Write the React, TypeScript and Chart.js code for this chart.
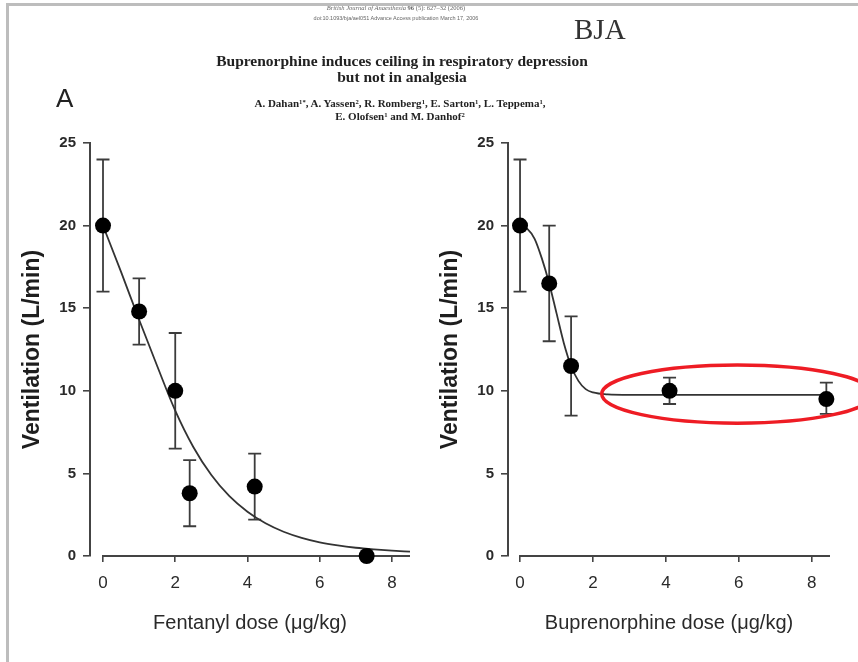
import React, { useEffect, useRef } from "react";
import { Chart, registerables } from "chart.js";

Chart.register(...registerables);

// ---------- data ----------
const X_TICKS = [0, 2, 4, 6, 8];
const Y_TICKS = [0, 5, 10, 15, 20, 25];

// Fentanyl panel (A, left)
const fentDose = [0, 1, 2, 2.4, 4.2, 7.3];
const fentVent = [20, 14.8, 10, 3.8, 4.2, 0];
const fentLow = [16, 12.8, 6.5, 1.8, 2.2, 0];
const fentHigh = [24, 16.8, 13.5, 5.8, 6.2, 0];
const fentFitDose = [0, 0.5, 1, 1.5, 2, 2.5, 3, 3.5, 4, 4.5, 5, 5.5, 6, 6.5, 7, 7.5, 8, 8.5];
const fentFitVent = [20, 17.2, 14.3, 11.5, 8.8, 6.6, 4.9, 3.62, 2.68, 1.98, 1.47, 1.1, 0.83, 0.64, 0.5, 0.4, 0.32, 0.26];

// Buprenorphine panel (right)
const bupDose = [0, 0.8, 1.4, 4.1, 8.4];
const bupVent = [20, 16.5, 11.5, 10, 9.5];
const bupLow = [16, 13, 8.5, 9.2, 8.6];
const bupHigh = [24, 20, 14.5, 10.8, 10.5];
const bupFitDose = [0, 0.2, 0.4, 0.6, 0.8, 1.0, 1.2, 1.4, 1.6, 1.8, 2.0, 2.4, 3, 4, 5, 6, 7, 8, 8.5];
const bupFitVent = [20, 19.8, 19.2, 18.0, 16.5, 14.7, 12.9, 11.5, 10.6, 10.1, 9.9, 9.78, 9.75, 9.75, 9.75, 9.75, 9.75, 9.75, 9.75];

// highlight ellipse around the plateau (data units)
const HIGHLIGHT = { cx: 5.96, cy: 9.8, rx: 3.72, ry: 1.76 };

const SANS = "'Liberation Sans', Arial, Helvetica, sans-serif";
const SERIF = "'Liberation Serif', 'Times New Roman', serif";
const AXIS_COLOR = "#444";

type Panel = {
  xTitle: string;
  dose: number[];
  vent: number[];
  low: number[];
  high: number[];
  fitDose: number[];
  fitVent: number[];
  xMin: number;
  padRight: number;
  ellipse: boolean;
};

function makePlugins(p: Panel) {
  const errorBars = {
    id: "errorBars",
    beforeDatasetsDraw(chart: any) {
      const { ctx } = chart;
      const x = chart.scales.x;
      const y = chart.scales.y;
      ctx.save();
      // x-axis line from 0 to the maximum
      const y0 = y.getPixelForValue(0);
      ctx.strokeStyle = AXIS_COLOR;
      ctx.lineWidth = 2;
      ctx.beginPath();
      ctx.moveTo(x.getPixelForValue(0) - 1, y0);
      ctx.lineTo(x.getPixelForValue(x.max), y0);
      ctx.stroke();
      // error bars
      ctx.lineWidth = 1.8;
      ctx.strokeStyle = "#3c3c3c";
      const cap = 6.5;
      for (let i = 0; i < p.dose.length; i++) {
        if (p.low[i] === p.high[i]) continue;
        const px = x.getPixelForValue(p.dose[i]);
        const pl = y.getPixelForValue(p.low[i]);
        const ph = y.getPixelForValue(p.high[i]);
        ctx.beginPath();
        ctx.moveTo(px, pl);
        ctx.lineTo(px, ph);
        ctx.moveTo(px - cap, pl);
        ctx.lineTo(px + cap, pl);
        ctx.moveTo(px - cap, ph);
        ctx.lineTo(px + cap, ph);
        ctx.stroke();
      }
      ctx.restore();
    },
    afterDraw(chart: any) {
      if (!p.ellipse) return;
      const { ctx } = chart;
      const x = chart.scales.x;
      const y = chart.scales.y;
      const cx = x.getPixelForValue(HIGHLIGHT.cx);
      const cy = y.getPixelForValue(HIGHLIGHT.cy);
      const rx = Math.abs(x.getPixelForValue(HIGHLIGHT.cx + HIGHLIGHT.rx) - cx);
      const ry = Math.abs(y.getPixelForValue(HIGHLIGHT.cy + HIGHLIGHT.ry) - cy);
      ctx.save();
      ctx.strokeStyle = "#ee1c24";
      ctx.lineWidth = 3.5;
      ctx.beginPath();
      ctx.ellipse(cx, cy, rx, ry, 0, 0, Math.PI * 2);
      ctx.stroke();
      ctx.restore();
    },
  };
  return [errorBars];
}

function makeConfig(p: Panel): any {
  return {
    type: "scatter",
    data: {
      datasets: [
        {
          type: "line",
          data: p.fitDose.map((d, i) => ({ x: d, y: p.fitVent[i] })),
          borderColor: "#333",
          borderWidth: 1.8,
          pointRadius: 0,
          cubicInterpolationMode: "monotone",
          fill: false,
          clip: false,
          order: 2,
        },
        {
          type: "scatter",
          data: p.dose.map((d, i) => ({ x: d, y: p.vent[i] })),
          pointRadius: 8,
          backgroundColor: "#000",
          borderColor: "#000",
          borderWidth: 0,
          clip: false,
          order: 1,
        },
      ],
    },
    options: {
      animation: false,
      responsive: false,
      maintainAspectRatio: false,
      events: [],
      layout: { padding: { left: 0, right: p.padRight, top: 143, bottom: 0 } },
      plugins: {
        legend: { display: false },
        tooltip: { enabled: false },
      },
      scales: {
        x: {
          type: "linear",
          min: p.xMin,
          max: 8.5,
          afterBuildTicks: (s: any) => {
            s.ticks = X_TICKS.map((v) => ({ value: v }));
          },
          afterFit: (s: any) => {
            s.height = 106;
          },
          border: { display: false },
          grid: {
            display: true,
            drawOnChartArea: false,
            drawTicks: true,
            tickLength: 6,
            color: AXIS_COLOR,
            lineWidth: 1.6,
          },
          ticks: {
            color: "#2a2a2a",
            font: { family: SANS, size: 17 },
            padding: 11,
            maxRotation: 0,
            autoSkip: false,
          },
          title: {
            display: true,
            text: p.xTitle,
            color: "#2a2a2a",
            font: { family: SANS, size: 20 },
            padding: { top: 0, bottom: 27 },
          },
        },
        y: {
          type: "linear",
          min: 0,
          max: 25,
          afterBuildTicks: (s: any) => {
            s.ticks = Y_TICKS.map((v) => ({ value: v }));
          },
          afterFit: (s: any) => {
            s.width = 90;
          },
          border: { display: true, color: AXIS_COLOR, width: 2 },
          grid: {
            display: true,
            drawOnChartArea: false,
            drawTicks: true,
            tickLength: 7,
            color: AXIS_COLOR,
            lineWidth: 1.6,
          },
          ticks: {
            color: "#2a2a2a",
            font: { family: SANS, size: 15, weight: "bold" },
            padding: 7,
          },
          title: {
            display: true,
            text: "Ventilation (L/min)",
            color: "#1e1e1e",
            font: { family: SANS, size: 23, weight: "bold" },
            padding: { top: 19, bottom: 0 },
          },
        },
      },
    },
    plugins: makePlugins(p),
  };
}

const LEFT_PANEL: Panel = {
  xTitle: "Fentanyl dose (μg/kg)",
  dose: fentDose,
  vent: fentVent,
  low: fentLow,
  high: fentHigh,
  fitDose: fentFitDose,
  fitVent: fentFitVent,
  xMin: -0.36,
  padRight: 5,
  ellipse: false,
};

const RIGHT_PANEL: Panel = {
  xTitle: "Buprenorphine dose (μg/kg)",
  dose: bupDose,
  vent: bupVent,
  low: bupLow,
  high: bupHigh,
  fitDose: bupFitDose,
  fitVent: bupFitVent,
  xMin: -0.33,
  padRight: 28,
  ellipse: true,
};

function PanelChart({ panel, left, width }: { panel: Panel; left: number; width: number }) {
  const ref = useRef<HTMLCanvasElement | null>(null);
  useEffect(() => {
    if (!ref.current) return;
    const chart = new Chart(ref.current, makeConfig(panel));
    return () => chart.destroy();
  }, [panel]);
  return (
    <canvas
      ref={ref}
      width={width}
      height={662}
      style={{ position: "absolute", left, top: 0, width, height: 662, display: "block" }}
    />
  );
}

function Line({
  text,
  cx,
  top,
  size,
  style,
}: {
  text: React.ReactNode;
  cx: number;
  top: number;
  size: number;
  style?: React.CSSProperties;
}) {
  return (
    <div
      style={{
        position: "absolute",
        left: cx - 320,
        width: 640,
        top,
        textAlign: "center",
        fontFamily: SERIF,
        fontSize: size,
        lineHeight: `${size}px`,
        whiteSpace: "nowrap",
        color: "#222",
        ...style,
      }}
    >
      {text}
    </div>
  );
}

const supStyle: React.CSSProperties = { fontSize: "0.6em", verticalAlign: "0.5em", lineHeight: 0 };

export default function App() {
  return (
    <div
      style={{
        position: "absolute",
        left: 0,
        top: 0,
        width: 858,
        height: 662,
        background: "#fff",
        overflow: "hidden",
      }}
    >
      <PanelChart panel={LEFT_PANEL} left={0} width={418} />
      <PanelChart panel={RIGHT_PANEL} left={418} width={440} />

      {/* frame */}
      <div
        style={{
          position: "absolute",
          left: 6,
          top: 3,
          width: 900,
          height: 700,
          borderTop: "3px solid #bdbdbd",
          borderLeft: "3px solid #bdbdbd",
        }}
      />

      {/* journal header */}
      <Line
        text={
          <span>
            <i>British Journal of Anaesthesia</i> <b>96</b> (5): 627–32 (2006)
          </span>
        }
        cx={396}
        top={5}
        size={6.5}
        style={{ color: "#666" }}
      />
      <Line
        text="doi:10.1093/bja/ael051    Advance Access publication March 17, 2006"
        cx={396}
        top={15}
        size={6.5}
        style={{ color: "#666", fontFamily: SANS, fontSize: 5.5 }}
      />
      <div
        style={{
          position: "absolute",
          left: 574,
          top: 15,
          fontFamily: SERIF,
          fontSize: 29,
          lineHeight: "29px",
          color: "#333",
        }}
      >
        BJA
      </div>
      <Line text="Buprenorphine induces ceiling in respiratory depression" cx={402} top={53} size={15.5} style={{ fontWeight: "bold" }} />
      <Line text="but not in analgesia" cx={402} top={69} size={15.5} style={{ fontWeight: "bold" }} />
      <Line
        text={
          <span>
            A. Dahan<sup style={supStyle}>1*</sup>, A. Yassen<sup style={supStyle}>2</sup>, R. Romberg<sup style={supStyle}>1</sup>, E. Sarton
            <sup style={supStyle}>1</sup>, L. Teppema<sup style={supStyle}>1</sup>,
          </span>
        }
        cx={400}
        top={98}
        size={11}
        style={{ fontWeight: "bold" }}
      />
      <Line
        text={
          <span>
            E. Olofsen<sup style={supStyle}>1</sup> and M. Danhof<sup style={supStyle}>2</sup>
          </span>
        }
        cx={400}
        top={111}
        size={11}
        style={{ fontWeight: "bold" }}
      />

      {/* panel label */}
      <div
        style={{
          position: "absolute",
          left: 56,
          top: 85,
          fontFamily: SANS,
          fontSize: 26,
          lineHeight: "26px",
          color: "#222",
        }}
      >
        A
      </div>
    </div>
  );
}
